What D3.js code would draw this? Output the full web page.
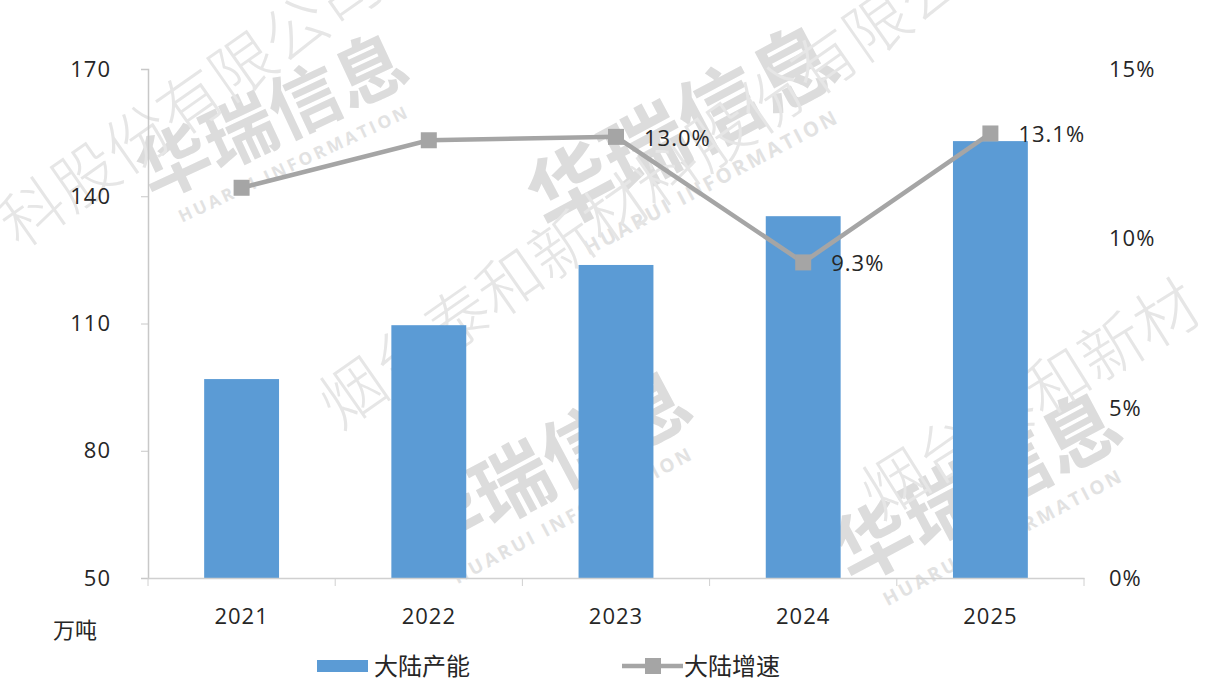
<!DOCTYPE html>
<html>
<head>
<meta charset="utf-8">
<script src="https://cdn.jsdelivr.net/npm/d3@7"></script>
<style>
  body { margin: 0; background: #fff; }
  svg text { font-family: "Open Sans", "Noto Sans CJK SC", sans-serif; }
</style>
</head>
<body>
<svg id="chart" width="1226" height="680"></svg>
<script>
var years = ["2021", "2022", "2023", "2024", "2025"];
var capacity = [96.9, 109.6, 123.8, 135.3, 153.0];   // 大陆产能, 万吨
var growth = [11.5, 12.9, 13.0, 9.3, 13.1];          // 大陆增速, %
var growthLabels = ["", "", "13.0%", "9.3%", "13.1%"];
var leftTicks = [50, 80, 110, 140, 170];
var rightTicks = [0, 5, 10, 15];

var svg = d3.select("#chart");
var plotL = 148, plotR = 1084, plotT = 69, plotB = 578;

var x = d3.scaleBand().domain(years).range([plotL, plotR]).paddingInner(0.6).paddingOuter(0.3);
var yL = d3.scaleLinear().domain([50, 170]).range([plotB, plotT]);
var yR = d3.scaleLinear().domain([0, 15]).range([plotB, plotT]);

// faint watermark (drawn first so it stays behind the marks)
var marks = [
  { cx: 283, cy: 140, a: -25, s: 72 },
  { cx: 697, cy: 155, a: -28, s: 84 },
  { cx: 560, cy: 490, a: -28, s: 78 },
  { cx: 990, cy: 512, a: -28, s: 78 }
];
var wm = svg.append("g").attr("pointer-events", "none");
marks.forEach(function (m) {
  var g = wm.append("g").attr("transform", "translate(" + m.cx + "," + m.cy + ") rotate(" + m.a + ")");
  g.append("text").attr("text-anchor", "middle").attr("font-size", m.s).attr("font-weight", "bold")
      .attr("fill", "#dcdcdc")
      .style("font-family", "'Noto Sans CJK SC'").text("华瑞信息");
  g.append("text").attr("text-anchor", "middle").attr("y", m.s * 0.45).attr("font-size", m.s * 0.24)
      .attr("font-weight", "bold").attr("letter-spacing", 3)
      .attr("fill", "#e2e2e2").text("HUARUI INFORMATION");
});
var names = [
  { x: 20, y: 250, a: -35, t: "科股份有限公司" },
  { x: 340, y: 430, a: -35, t: "烟台泰和新材料股份有限公司" },
  { x: 880, y: 520, a: -32, t: "烟台泰和新材" }
];
names.forEach(function (n) {
  wm.append("text").attr("transform", "translate(" + n.x + "," + n.y + ") rotate(" + n.a + ")")
      .attr("font-size", 64).attr("fill", "#e6e6e6")
      .style("font-family", "'Noto Sans CJK SC'").style("font-weight", 300).text(n.t);
});

// left axis
var gl = svg.append("g").attr("transform", "translate(" + plotL + ",0)")
    .call(d3.axisLeft(yL).tickValues(leftTicks).tickSize(7).tickPadding(30));
gl.select(".domain").attr("stroke", "#c8c8c8").attr("stroke-width", 1.5);
gl.selectAll(".tick line").attr("stroke", "#c8c8c8");
gl.selectAll("text").attr("font-size", 22).attr("letter-spacing", 1).attr("fill", "#262626");

// right axis labels only
var gr = svg.append("g").attr("transform", "translate(1109,0)")
    .call(d3.axisRight(yR).tickValues(rightTicks).tickSize(0).tickPadding(0)
      .tickFormat(function (d) { return d + "%"; }));
gr.select(".domain").remove();
gr.selectAll("text").attr("font-size", 22).attr("letter-spacing", 1).attr("fill", "#262626");

// bars
svg.append("g").selectAll("rect")
    .data(capacity)
    .enter()
    .append("rect")
    .attr("x", function (d, i) { return x(years[i]); })
    .attr("width", x.bandwidth())
    .attr("y", function (d) { return yL(d); })
    .attr("height", function (d) { return plotB - yL(d); })
    .attr("fill", "#5b9bd5");

// bottom axis, ticks between categories
var gb = svg.append("g").attr("transform", "translate(0," + plotB + ")")
    .call(d3.axisBottom(x).tickSize(0).tickPadding(30));
gb.select(".domain").attr("stroke", "#d0d0d0").attr("stroke-width", 1.5);
gb.selectAll("text").attr("font-size", 22).attr("letter-spacing", 1).attr("fill", "#262626");
var step = x.step();
svg.append("g").selectAll("line")
    .data(d3.range(years.length + 1))
    .enter()
    .append("line")
    .attr("x1", function (k) { return plotL + k * step; })
    .attr("x2", function (k) { return plotL + k * step; })
    .attr("y1", plotB).attr("y2", plotB + 8)
    .attr("stroke", "#d0d0d0");

// growth line
var cx = function (d, i) { return x(years[i]) + x.bandwidth() / 2; };
var line = d3.line().x(cx).y(function (d) { return yR(d); });
svg.append("path").datum(growth)
    .attr("d", line)
    .attr("fill", "none")
    .attr("stroke", "#a5a5a5")
    .attr("stroke-width", 4.5);
svg.append("g").selectAll("rect")
    .data(growth)
    .enter()
    .append("rect")
    .attr("x", function (d, i) { return cx(d, i) - 8; })
    .attr("y", function (d) { return yR(d) - 8; })
    .attr("width", 16).attr("height", 16)
    .attr("fill", "#a5a5a5");
svg.append("g").selectAll("text")
    .data(growth)
    .enter()
    .append("text")
    .attr("x", function (d, i) { return cx(d, i) + 28; })
    .attr("y", function (d) { return yR(d) + 9; })
    .attr("font-size", 22)
    .attr("letter-spacing", 1)
    .attr("fill", "#262626")
    .text(function (d, i) { return growthLabels[i]; });

// unit
svg.append("text").attr("x", 53).attr("y", 638).attr("font-size", 22).attr("fill", "#262626")
    .style("font-family", "'Noto Sans CJK SC'").text("万吨");

// legend
var lg = svg.append("g");
lg.append("rect").attr("x", 317).attr("y", 660).attr("width", 51).attr("height", 12).attr("fill", "#5b9bd5");
lg.append("text").attr("x", 374).attr("y", 675).attr("font-size", 24).attr("fill", "#262626")
    .style("font-family", "'Noto Sans CJK SC'").text("大陆产能");
lg.append("line").attr("x1", 622).attr("x2", 683).attr("y1", 666).attr("y2", 666)
    .attr("stroke", "#a5a5a5").attr("stroke-width", 4.5);
lg.append("rect").attr("x", 645).attr("y", 658).attr("width", 16).attr("height", 16).attr("fill", "#a5a5a5");
lg.append("text").attr("x", 684).attr("y", 675).attr("font-size", 24).attr("fill", "#262626")
    .style("font-family", "'Noto Sans CJK SC'").text("大陆增速");
</script>
</body>
</html>
